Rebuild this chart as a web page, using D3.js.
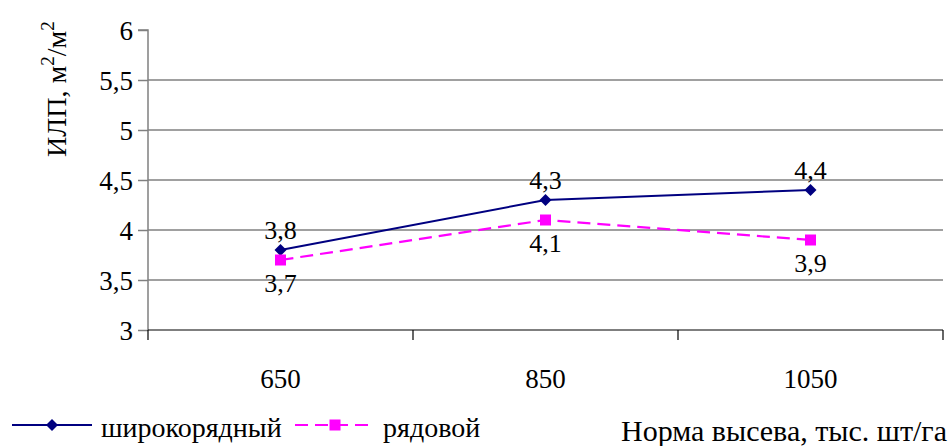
<!DOCTYPE html>
<html><head><meta charset="utf-8">
<script src="https://cdn.jsdelivr.net/npm/d3@7/dist/d3.min.js"></script>
<style>body{margin:0;background:#fff;}</style>
</head><body><svg id="c" width="950" height="446"></svg>
<script>
const categories = ["650", "850", "1050"];
const seriesNames = ["широкорядный", "рядовой"];
const wide = [3.8, 4.3, 4.4];
const row = [3.7, 4.1, 3.9];
const wideLabels = ["3,8", "4,3", "4,4"];
const rowLabels = ["3,7", "4,1", "3,9"];
const yTicks = [3, 3.5, 4, 4.5, 5, 5.5, 6];
const yTickLabels = ["3", "3,5", "4", "4,5", "5", "5,5", "6"];

(function () {
const FONT = "Liberation Serif";
const svg = d3.select("#c");
const pL = 148, pR = 943, pT = 30, pB = 330;
const x = d3.scaleBand().domain(categories).range([pL, pR]);
const y = d3.scaleLinear().domain([3, 6]).range([pB, pT]);

// gridlines
svg.append("g").selectAll("line").data(yTicks.filter(t => t > 3 && t < 6)).join("line")
  .attr("x1", pL).attr("x2", pR).attr("y1", d => y(d)).attr("y2", d => y(d))
  .attr("stroke", "#808080").attr("stroke-width", 1.5);

// y axis
const yAxis = d3.axisLeft(y).tickValues(yTicks).tickFormat((d, i) => yTickLabels[i]).tickSize(10).tickPadding(5);
const gy = svg.append("g").attr("transform", `translate(${pL},0)`).call(yAxis)
  .attr("font-family", FONT).attr("font-size", 27);
gy.select(".domain").attr("stroke", "#808080").attr("stroke-width", 1.5).attr("d", `M-10,${pT}H0V${pB}`);
gy.selectAll(".tick line").attr("stroke", "#808080").attr("stroke-width", 1.5);
gy.selectAll(".tick text").attr("dy", "0.34em").attr("fill", "#000");

// x axis
const gx = svg.append("g").attr("transform", `translate(0,${pB})`);
gx.append("line").attr("x1", pL).attr("x2", pR).attr("y1", 0).attr("y2", 0).attr("stroke", "#000").attr("stroke-width", 1.2);
const edges = [pL, ...categories.map(c => x(c) + x.bandwidth())];
gx.selectAll("line.t").data(edges).join("line").attr("class", "t")
  .attr("x1", d => d).attr("x2", d => d).attr("y1", 0).attr("y2", 10).attr("stroke", "#000").attr("stroke-width", 1.2);
gx.selectAll("text").data(categories).join("text")
  .attr("x", d => x(d) + x.bandwidth() / 2).attr("y", 58).attr("text-anchor", "middle")
  .attr("font-family", FONT).attr("font-size", 27).text(d => d);

const cx = c => x(c) + x.bandwidth() / 2;
const line = d3.line().x((d, i) => cx(categories[i])).y(d => y(d));

svg.append("path").datum(wide).attr("d", line).attr("fill", "none").attr("stroke", "#000080").attr("stroke-width", 2);
svg.append("path").datum(row).attr("d", line).attr("fill", "none").attr("stroke", "#FF00FF").attr("stroke-width", 2.2).attr("stroke-dasharray", "13,7");

const diamond = d3.symbol().type(d3.symbolSquare).size(72);
svg.append("g").selectAll("path").data(wide).join("path")
  .attr("d", diamond).attr("transform", (d, i) => `translate(${cx(categories[i])},${y(d)}) rotate(45)`).attr("fill", "#000080");
svg.append("g").selectAll("rect").data(row).join("rect")
  .attr("x", (d, i) => cx(categories[i]) - 5.5).attr("y", d => y(d) - 5.5).attr("width", 11).attr("height", 11).attr("fill", "#FF00FF");

svg.append("g").selectAll("text").data(wide).join("text")
  .attr("x", (d, i) => cx(categories[i])).attr("y", d => y(d) - 11).attr("text-anchor", "middle")
  .attr("font-family", FONT).attr("font-size", 26).text((d, i) => wideLabels[i]);
svg.append("g").selectAll("text").data(row).join("text")
  .attr("x", (d, i) => cx(categories[i])).attr("y", d => y(d) + 32).attr("text-anchor", "middle")
  .attr("font-family", FONT).attr("font-size", 26).text((d, i) => rowLabels[i]);

// y title
const yt = svg.append("text").attr("transform", "translate(66,157) rotate(-90)").attr("text-anchor", "start")
  .attr("font-family", FONT).attr("font-size", 28);
yt.append("tspan").text("ИЛП, м");
yt.append("tspan").attr("dy", -12).attr("font-size", 19).text("2");
yt.append("tspan").attr("dy", 12).text("/м");
yt.append("tspan").attr("dy", -12).attr("font-size", 19).text("2");

// x title
svg.append("text").attr("x", 621).attr("y", 441).attr("font-family", FONT).attr("font-size", 30).text("Норма высева, тыс. шт/га");

// legend
const lg = svg.append("g");
lg.append("line").attr("x1", 12).attr("x2", 92).attr("y1", 425).attr("y2", 425).attr("stroke", "#000080").attr("stroke-width", 2);
lg.append("path").attr("d", diamond).attr("transform", "translate(52,425) rotate(45)").attr("fill", "#000080");
lg.append("text").attr("x", 101).attr("y", 437).attr("font-family", FONT).attr("font-size", 28).text(seriesNames[0]);
lg.append("line").attr("x1", 295).attr("x2", 375).attr("y1", 425).attr("y2", 425).attr("stroke", "#FF00FF").attr("stroke-width", 2.2).attr("stroke-dasharray", "13,7");
lg.append("rect").attr("x", 329.5).attr("y", 419.5).attr("width", 11).attr("height", 11).attr("fill", "#FF00FF");
lg.append("text").attr("x", 383).attr("y", 437).attr("font-family", FONT).attr("font-size", 28).text(seriesNames[1]);
})();
</script></body></html>
